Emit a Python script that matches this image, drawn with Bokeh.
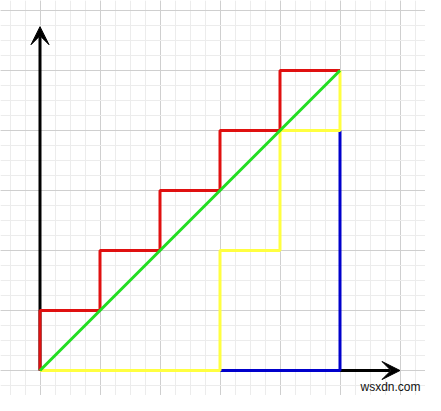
from bokeh.plotting import figure
from bokeh.models import Grid, FixedTicker, Arrow, VeeHead, Range1d
from bokeh.core.properties import value
from bokeh.embed import file_html
from bokeh.resources import INLINE

# data (grid units)
red_x = [0, 0, 1, 1, 2, 2, 3, 3, 4, 4, 5]
red_y = [0, 1, 1, 2, 2, 3, 3, 4, 4, 5, 5]
yellow_x = [5, 5, 4, 4, 3, 3, 0]
yellow_y = [5, 4, 4, 2, 2, 0, 0]
blue_x = [5, 5, 3]
blue_y = [4, 0, 0]
green_x = [0, 5]
green_y = [0, 5]
x_axis_end = 6.0
y_axis_end = 5.73
major_ticks = list(range(-1, 8))
minor_ticks = [k * 0.25 for k in range(-4, 30)]

W, H = 425, 395
p = figure(width=W, height=H, output_backend="svg", toolbar_location=None,
           x_axis_location=None, y_axis_location=None, min_border=0,
           x_range=Range1d(-39.5 / 60, (433 - 47.5) / 60),
           y_range=Range1d((378 - 403) / 60, (378 - 8) / 60))
p.outline_line_color = None
p.background_fill_color = "white"
p.border_fill_color = "white"

for dim in (0, 1):
    g = Grid(dimension=dim, ticker=FixedTicker(ticks=major_ticks, minor_ticks=minor_ticks),
             grid_line_color="#cfcfcf", grid_line_width=1,
             minor_grid_line_color="#ececec", minor_grid_line_width=1)
    p.add_layout(g)

# axes arrows (under the coloured lines)
p.add_layout(Arrow(x_start=0, y_start=0, x_end=0, y_end=y_axis_end, line_width=3, line_color="black",
                   level="underlay",
                   end=VeeHead(size=18, fill_color="black", line_color="black", line_width=1)))
p.add_layout(Arrow(x_start=0, y_start=0, x_end=x_axis_end, y_end=0, line_width=3, line_color="black",
                   level="underlay",
                   end=VeeHead(size=18, fill_color="black", line_color="black", line_width=1)))

p.line(blue_x, blue_y, line_color="#0000cc", line_width=3)
p.line(yellow_x, yellow_y, line_color="#ffff40", line_width=3)
p.line(red_x, red_y, line_color="#e01010", line_width=3)
p.line(green_x, green_y, line_color="#22dd22", line_width=3)

p.text(x=[(368 - 47.5) / 60], y=[(378 - 394) / 60], text=["wsxdn.com"],
       text_font=value("Liberation Sans"), text_font_size="12px", text_color="#111111",
       text_baseline="middle", text_align="left")

open("out.html", "w").write(file_html(p, INLINE))
